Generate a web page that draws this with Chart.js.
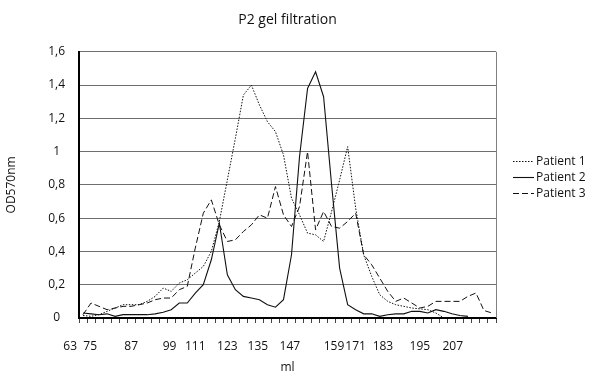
<!DOCTYPE html>
<html>
<head>
<meta charset="utf-8">
<script src="https://cdn.jsdelivr.net/npm/chart.js@4.4.1/dist/chart.umd.min.js"></script>
<style>
  html, body { margin: 0; padding: 0; background: #fff; }
  #wrap { width: 600px; height: 376px; }
</style>
</head>
<body>
<div id="wrap"><canvas id="myChart"></canvas></div>
<script>
// fractions collected (one column each on the x axis)
const fractions = [1, 2, 3, 4, 5, 6, 7, 8, 9, 10, 11, 12, 13, 14, 15, 16, 17, 18, 19, 20, 21, 22, 23, 24, 25, 26,
  27, 28, 29, 30, 31, 32, 33, 34, 35, 36, 37, 38, 39, 40, 41, 42, 43, 44, 45, 46, 47, 48, 49, 50, 51, 52]

// OD570nm per fraction
const patient1 = [0.015, 0.01, 0.02, 0.04, 0.06, 0.08, 0.08, 0.08, 0.10, 0.13, 0.18, 0.16, 0.21, 0.23, 0.27, 0.31,
  0.40, 0.58, 0.83, 1.08, 1.34, 1.40, 1.28, 1.18, 1.12, 0.98, 0.72, 0.62, 0.51, 0.50, 0.46, 0.64, 0.83, 1.03,
  0.66, 0.38, 0.25, 0.14, 0.10, 0.08, 0.07, 0.06, 0.055, 0.05, 0.03, 0.0]
const patient2 = [0.03, 0.025, 0.02, 0.025, 0.01, 0.02, 0.02, 0.02, 0.02, 0.025, 0.035, 0.05, 0.09, 0.09, 0.15, 0.20,
  0.35, 0.57, 0.26, 0.17, 0.13, 0.12, 0.11, 0.08, 0.065, 0.11, 0.38, 0.97, 1.38, 1.48, 1.33, 0.80, 0.30, 0.08,
  0.05, 0.025, 0.025, 0.01, 0.02, 0.025, 0.025, 0.04, 0.04, 0.03, 0.05, 0.04, 0.025, 0.015, 0.01]
const patient3 = [0.02, 0.09, 0.07, 0.05, 0.06, 0.07, 0.07, 0.08, 0.09, 0.11, 0.12, 0.12, 0.17, 0.19, 0.42, 0.63,
  0.71, 0.56, 0.46, 0.47, 0.52, 0.56, 0.62, 0.60, 0.79, 0.62, 0.55, 0.67, 1.0, 0.53, 0.64, 0.55, 0.54, 0.58,
  0.63, 0.38, 0.32, 0.24, 0.16, 0.10, 0.12, 0.09, 0.06, 0.07, 0.10, 0.10, 0.10, 0.10, 0.13, 0.15, 0.045, 0.03]

// ml labels under the axis and the fraction each one stands under
const mlLabels = ["63", "75", "87", "99", "111", "123", "135", "147", "159", "171", "183", "195", "207"]
const mlAt = [-0.6, 1.9, 7.0, 11.8, 15.0, 19.0, 22.8, 26.8, 32.3, 35.0, 38.4, 43.0, 47.1]

const FONT = "'Open Sans', 'Noto Sans', sans-serif"
const INK = "#111"

const toPoints = (values) => values.map((v, i) => ({ x: fractions[i], y: v }))

// legenda e bordo destro disegnati a mano
const extras = {
  id: "extras",
  afterDraw(chart) {
    const { ctx, chartArea } = chart
    ctx.save()
    ctx.strokeStyle = "#808080"
    ctx.lineWidth = 1
    ctx.beginPath()
    ctx.moveTo(chartArea.right + 0.5, chartArea.top)
    ctx.lineTo(chartArea.right + 0.5, chartArea.bottom)
    ctx.stroke()

    const x0 = chartArea.right + 17
    const y0 = (chartArea.top + chartArea.bottom) / 2 - 23.5
    ctx.font = "12px " + FONT
    ctx.textBaseline = "middle"
    chart.data.datasets.forEach((ds, i) => {
      const y = Math.round(y0 + i * 16) + 0.5
      ctx.setLineDash(ds.borderDash || [])
      ctx.strokeStyle = ds.borderColor
      ctx.lineWidth = ds.borderWidth
      ctx.beginPath()
      ctx.moveTo(x0, y)
      ctx.lineTo(x0 + 21, y)
      ctx.stroke()
      ctx.setLineDash([])
      ctx.fillStyle = INK
      ctx.fillText(ds.label, x0 + 23, y)
    })
    ctx.restore()
  },
}

const ctx = document.getElementById("myChart")

new Chart(ctx, {
  type: "line",
  data: {
    datasets: [
      { label: "Patient 1", data: toPoints(patient1), borderColor: INK, borderWidth: 1, borderDash: [1.5, 1.5] },
      { label: "Patient 2", data: toPoints(patient2), borderColor: INK, borderWidth: 1.1 },
      { label: "Patient 3", data: toPoints(patient3), borderColor: INK, borderWidth: 1, borderDash: [6, 3] },
    ],
  },
  options: {
    responsive: true,
    maintainAspectRatio: false,
    animation: false,
    elements: { point: { radius: 0 }, line: { tension: 0, fill: false } },
    layout: { padding: { left: 0, right: 104, top: 0, bottom: 0 } },
    plugins: {
      legend: { display: false },
      tooltip: { enabled: false },
      title: {
        display: true,
        fullSize: false,
        text: "P2 gel filtration",
        color: INK,
        font: { family: FONT, size: 14, weight: "normal" },
        padding: { top: 12, bottom: 23 },
      },
    },
    scales: {
      x: {
        type: "linear",
        min: fractions[0] - 0.5,
        max: fractions[fractions.length - 1] + 0.5,
        weight: 0,
        afterBuildTicks: (scale) => {
          scale.ticks = [fractions[0] - 0.5, ...fractions.map((f) => f + 0.5)].map((v) => ({ value: v }))
        },
        afterFit: (scale) => {
          scale.height = 5
        },
        ticks: { display: false },
        grid: { drawOnChartArea: false, drawTicks: true, tickLength: 5, color: "#444", lineWidth: 1 },
        border: { display: true, color: "#000", width: 2 },
      },
      x2: {
        type: "linear",
        position: "bottom",
        min: fractions[0] - 0.5,
        max: fractions[fractions.length - 1] + 0.5,
        weight: 1,
        afterBuildTicks: (scale) => {
          scale.ticks = mlAt.map((v) => ({ value: v }))
        },
        afterFit: (scale) => {
          scale.height = 53
        },
        ticks: {
          autoSkip: false,
          maxRotation: 0,
          padding: 8,
          color: INK,
          font: { family: FONT, size: 12 },
          callback: (v, i) => mlLabels[i],
        },
        grid: { display: false },
        border: { display: false },
        title: {
          display: true,
          text: "ml",
          color: INK,
          font: { family: FONT, size: 12 },
          padding: { top: 8, bottom: 1 },
        },
      },
      y: {
        min: 0,
        max: 1.6,
        afterFit: (scale) => {
          scale.width = 79
        },
        ticks: {
          stepSize: 0.2,
          padding: 14,
          crossAlign: "center",
          color: INK,
          font: { family: FONT, size: 12 },
          callback: (v) => String(Number(v.toFixed(1))).replace(".", ","),
        },
        grid: { color: "#6e6e6e", lineWidth: 1, drawTicks: false },
        border: { display: true, color: "#000", width: 2 },
        title: {
          display: true,
          text: "OD570nm",
          color: INK,
          font: { family: FONT, size: 12 },
          padding: { top: 4, bottom: 0 },
        },
      },
    },
  },
  plugins: [extras],
})
</script>
</body>
</html>
